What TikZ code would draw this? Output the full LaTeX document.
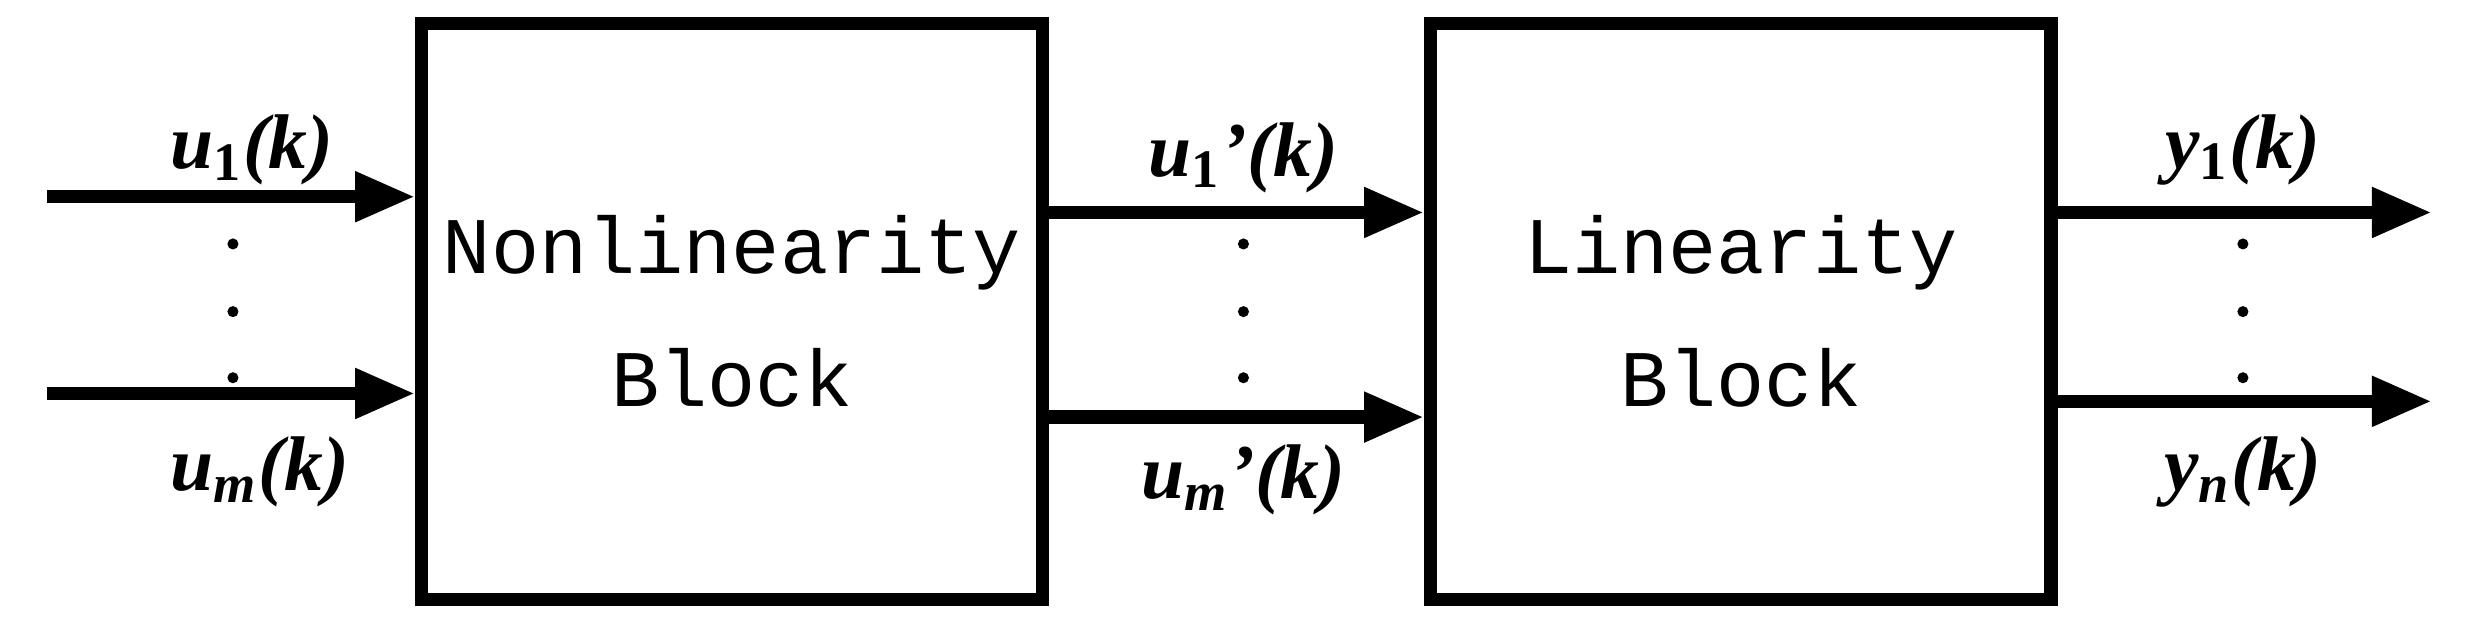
\documentclass[tikz,border=0pt]{standalone}
\usepackage{fontspec}
\setmainfont{Liberation Serif}
\newfontfamily\boxfont{Liberation Mono}
\usetikzlibrary{arrows.meta}
\begin{document}
\begin{tikzpicture}[x=0.01cm,y=-0.01cm,
  blk/.style={draw,line width=2.4pt,minimum width=3.94cm,minimum height=3.66cm,inner sep=0pt,font=\boxfont\fontsize{14.5}{24}\selectfont,align=center},
  sig/.style={line width=2.4pt,-{Triangle[length=0.38cm,width=0.3cm]}},
  lab/.style={font=\fontsize{14}{16}\selectfont\bfseries\itshape},
  dot/.style={fill,circle,inner sep=0pt,minimum size=2pt}]
\useasboundingbox (0,0) rectangle (1568,392);
\node[blk] (nl) at (465,198) {Nonlinearity\\Block};
\node[blk] (ln) at (1106,198) {Linearity\\Block};
\coordinate (i1) at (30,125); \coordinate (i2) at (30,250);
\draw[sig] (i1) -- (i1 -| nl.west);
\draw[sig] (i2) -- (i2 -| nl.west);
\coordinate (m1) at (662,135); \coordinate (m2) at (662,265);
\draw[sig] (m1) -- (m1 -| ln.west);
\draw[sig] (m2) -- (m2 -| ln.west);
\coordinate (o1) at (1545,135); \coordinate (o2) at (1545,255);
\draw[sig] (o1 -| ln.east) -- (o1);
\draw[sig] (o2 -| ln.east) -- (o2);
\node[lab] (l1) at (160,95) {u\textsubscript{\upshape\bfseries 1}(k)};
\node[lab] (l2) at (165,300) {u\textsubscript{m}(k)};
\node[lab] (l3) at (790,100) {u\textsubscript{\upshape\bfseries 1}'(k)};
\node[lab] (l4) at (790,305) {u\textsubscript{m}'(k)};
\node[lab] (l5) at (1425,95) {y\textsubscript{\upshape\bfseries 1}(k)};
\node[lab] (l6) at (1425,300) {y\textsubscript{n}(k)};
\foreach \x in {148,790,1425}{\foreach \y in {155,198,240}{\node[dot] at (\x,\y) {};}}
\end{tikzpicture}
\end{document}
